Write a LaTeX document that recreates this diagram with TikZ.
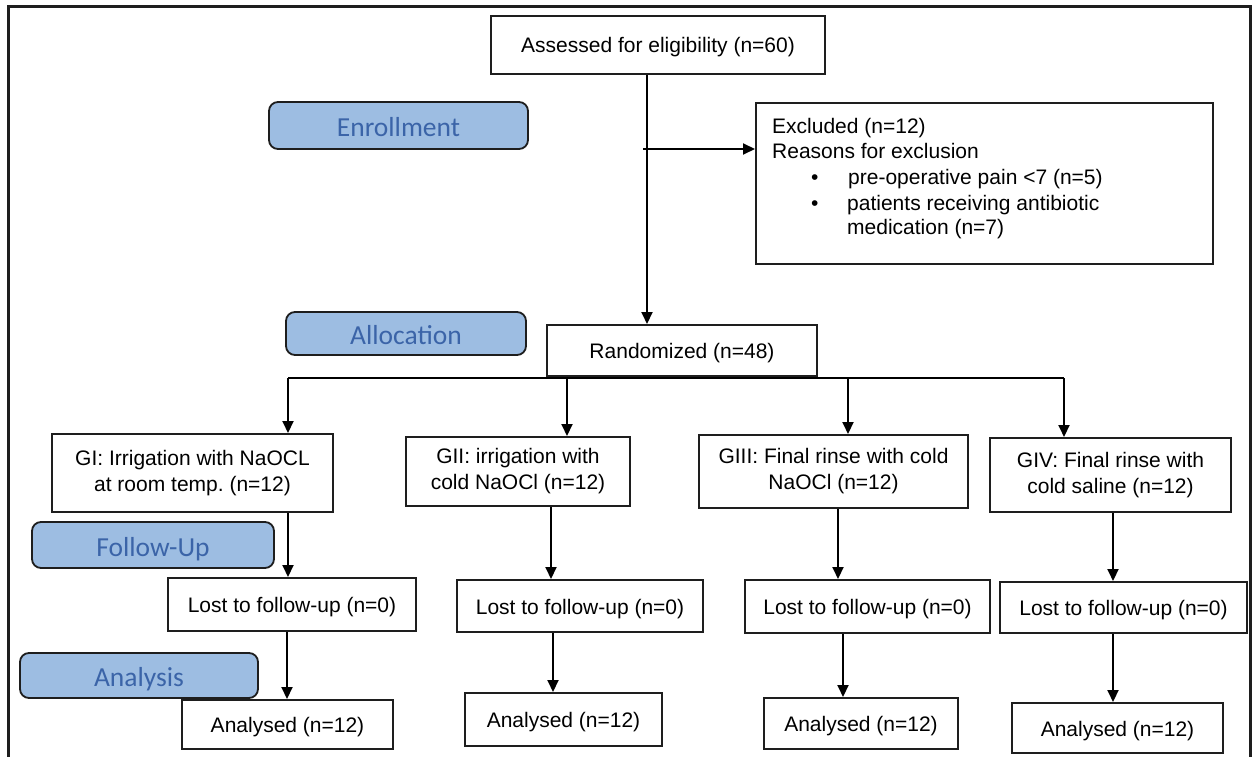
\documentclass[tikz,border=0pt]{standalone}
\usepackage{fontspec}
\setmainfont{Liberation Sans}
\newfontfamily\pillfont{Carlito}
\usetikzlibrary{arrows.meta}
\frenchspacing
\definecolor{pillfill}{RGB}{157,189,226}
\definecolor{pilltext}{RGB}{59,100,168}
\definecolor{ink}{RGB}{30,30,30}
\tikzset{
  box/.style={draw=ink, line width=2pt, fill=white, inner sep=0pt, align=center,
    font=\fontsize{21}{26}\selectfont},
  one/.style={text height=16pt, text depth=0pt},
  pill/.style={draw=ink, line width=1.8pt, fill=pillfill, rounded corners=9pt,
    inner sep=0pt, text=pilltext, text height=22pt, text depth=0pt,
    font=\pillfont\fontsize{27.5}{30}\selectfont},
  arr/.style={draw=black, line width=2pt, -{Triangle[length=12pt,width=11pt]}},
  conn/.style={draw=black, line width=2pt},
  txt/.style={inner sep=0pt, anchor=base west, font=\fontsize{21}{26}\selectfont},
  frame/.style={draw=ink, line width=3pt}
}
\begin{document}
\begin{tikzpicture}[x=1pt,y=1pt]
\useasboundingbox (0,0) rectangle (1252,-757);
\fill[white] (0,0) rectangle (1252,-757);
% outer frame
\draw[frame] (8,-757) -- (8,-7) -- (1250,-7) -- (1250,-757);

% phase labels
\node[pill, minimum width=259pt, minimum height=47pt] (enroll) at (398.5,-125.5) {Enrollment};
\node[pill, minimum width=240pt, minimum height=43pt] (alloc) at (406,-333.5) {Allocation};
\node[pill, minimum width=242pt, minimum height=46pt] (follow) at (153,-545) {Follow-Up};
\node[pill, minimum width=238pt, minimum height=45pt] (analysis) at (139,-675.5) {Analysis};

% main boxes
\node[box, one, minimum width=334pt, minimum height=58pt] (assess) at (658,-45) {Assessed for eligibility (n=60)};
\node[box, minimum width=457pt, minimum height=161pt, anchor=north west] (excl) at (755,-102) {};
\node[txt] (ex1) at (772,-134) {Excluded (n=12)};
\node[txt] (ex2) at (772,-158) {Reasons for exclusion};
\node[txt] (ex3) at (811,-184) {\textbullet};
\node[txt] (ex4) at (848,-184) {pre-operative pain <7 (n=5)};
\node[txt] (ex5) at (811,-210) {\textbullet};
\node[txt] (ex6) at (847,-210) {patients receiving antibiotic};
\node[txt] (ex7) at (847,-234) {medication (n=7)};

\node[box, one, minimum width=270pt, minimum height=51pt] (rand) at (682,-350.5) {Randomized (n=48)};

\node[box, minimum width=281pt, minimum height=78pt] (g1) at (192.5,-473) {GI: Irrigation with NaOCL\\at room temp. (n=12)};
\node[box, minimum width=224pt, minimum height=69pt] (g2) at (518,-471.5) {GII: irrigation with\\cold NaOCl (n=12)};
\node[box, minimum width=269pt, minimum height=73pt] (g3) at (833.5,-471.5) {GIII: Final rinse with cold\\NaOCl (n=12)};
\node[box, minimum width=241pt, minimum height=74pt] (g4) at (1110.5,-475) {GIV: Final rinse with\\cold saline (n=12)};

\node[box, one, minimum width=248pt, minimum height=53pt] (l1) at (292,-604.5) {Lost to follow-up (n=0)};
\node[box, one, minimum width=246pt, minimum height=52pt] (l2) at (580,-606) {Lost to follow-up (n=0)};
\node[box, one, minimum width=245pt, minimum height=53pt] (l3) at (867.5,-606.5) {Lost to follow-up (n=0)};
\node[box, one, minimum width=247pt, minimum height=51pt] (l4) at (1123.5,-607.5) {Lost to follow-up (n=0)};

\node[box, one, minimum width=211pt, minimum height=49pt] (a1) at (287.5,-724.5) {Analysed (n=12)};
\node[box, one, minimum width=197pt, minimum height=53pt] (a2) at (563.5,-719.5) {Analysed (n=12)};
\node[box, one, minimum width=194pt, minimum height=51pt] (a3) at (861,-723.5) {Analysed (n=12)};
\node[box, one, minimum width=211pt, minimum height=50pt] (a4) at (1117.5,-728) {Analysed (n=12)};

% connectors
\coordinate (main) at (647,0);
\draw[arr] (assess.south -| main) -- (rand.north -| main);
\coordinate (ej) at (643,-149);
\draw[arr] (ej) -- (ej -| excl.west);

\coordinate (b1) at (288,-378);
\coordinate (b2) at (567,-378);
\coordinate (b3) at (848,-378);
\coordinate (b4) at (1064,-378);
\draw[conn] (b1) -- (b4);
\draw[arr] (b1) -- (b1 |- g1.north);
\draw[arr] (b2) -- (b2 |- g2.north);
\draw[arr] (b3) -- (b3 |- g3.north);
\draw[arr] (b4) -- (b4 |- g4.north);

\coordinate (c1) at (288,0);
\coordinate (c2) at (551,0);
\coordinate (c3) at (838,0);
\coordinate (c4) at (1113,0);
\draw[arr] (g1.south -| c1) -- (l1.north -| c1);
\draw[arr] (g2.south -| c2) -- (l2.north -| c2);
\draw[arr] (g3.south -| c3) -- (l3.north -| c3);
\draw[arr] (g4.south -| c4) -- (l4.north -| c4);

\coordinate (d1) at (287,0);
\coordinate (d2) at (553,0);
\coordinate (d3) at (843,0);
\coordinate (d4) at (1113,0);
\draw[arr] (l1.south -| d1) -- (a1.north -| d1);
\draw[arr] (l2.south -| d2) -- (a2.north -| d2);
\draw[arr] (l3.south -| d3) -- (a3.north -| d3);
\draw[arr] (l4.south -| d4) -- (a4.north -| d4);
\end{tikzpicture}
\end{document}
